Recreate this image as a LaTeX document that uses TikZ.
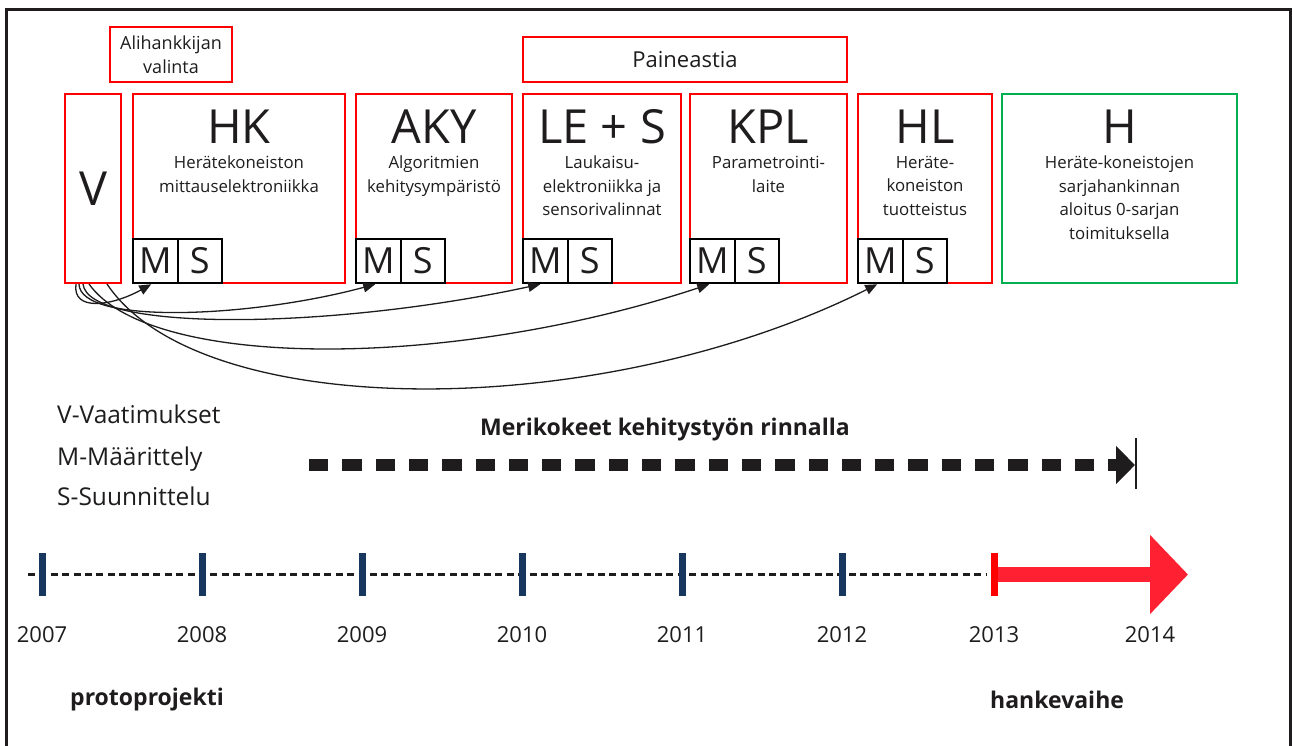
\documentclass[tikz,border=0pt]{standalone}
\usepackage{fontspec}
\setmainfont{Open Sans}
\usetikzlibrary{arrows.meta}
\definecolor{boxred}{RGB}{255,0,0}
\definecolor{boxgreen}{RGB}{0,176,80}
\definecolor{tickblue}{RGB}{23,55,94}
\definecolor{arrowred}{RGB}{255,33,49}
\definecolor{ink}{RGB}{30,28,29}
\begin{document}
\begin{tikzpicture}[x=1pt,y=-1pt,
  every node/.style={text=ink},
  redbox/.style={draw=boxred, line width=2pt, inner sep=0pt, minimum height=189pt},
  greenbox/.style={draw=boxgreen, line width=2pt, inner sep=0pt, minimum height=189pt},
  topbox/.style={draw=boxred, line width=1.6pt, inner sep=0pt, align=center},
  msbox/.style={draw=black, line width=2pt, inner sep=0pt, minimum width=44.5pt, minimum height=44.5pt, font=\fontsize{36}{36}\selectfont},
  bigtitle/.style={inner sep=0pt, anchor=base, font=\fontsize{47}{47}\selectfont},
  subtext/.style={inner sep=0pt, anchor=north, align=center, font=\fontsize{16.8}{23.5}\selectfont},
  legend/.style={inner sep=0pt, anchor=base west, font=\fontsize{24.5}{24.5}\selectfont},
  yearlbl/.style={inner sep=0pt, anchor=base, font=\fontsize{22}{22}\selectfont},
  boldlbl/.style={inner sep=0pt, font=\bfseries\fontsize{23}{23}\selectfont},
  conn/.style={draw=ink, line width=1.3pt, -{Triangle[length=12pt,width=10pt]}},
  tick/.style={fill=tickblue, inner sep=0pt, minimum width=7pt, minimum height=43pt},
]
\useasboundingbox (0,0) rectangle (1292,745);
% frame
\draw[line width=2.5pt, ink] (6.5,746) -- (6.5,9.5) -- (1290.5,9.5) -- (1290.5,746);

% top boxes
\node[topbox, minimum width=122pt, minimum height=55pt, font=\fontsize{18}{24}\selectfont] (ali) at (171,54.5) {Alihankkijan\\valinta};
\node[topbox, line width=2pt, minimum width=324pt, minimum height=45pt, font=\fontsize{22}{22}\selectfont] (paine) at (685,59.5) {Paineastia};

% V box
\node[redbox, minimum width=56pt, font=\fontsize{47}{47}\selectfont] (V) at (93,188.5) {V};

% main boxes
\node[redbox, minimum width=212pt] (HK) at (239,188.5) {};
\node[redbox, minimum width=156pt] (AKY) at (434,188.5) {};
\node[redbox, minimum width=158pt] (LES) at (602,188.5) {};
\node[redbox, minimum width=157pt] (KPL) at (768.5,188.5) {};
\node[redbox, minimum width=134pt] (HL) at (925,188.5) {};
\node[greenbox, minimum width=235pt] (H) at (1119.5,188.5) {};

% titles
\node[bigtitle] (HKt) at (239,143) {HK};
\node[bigtitle] (AKYt) at (434,143) {AKY};
\node[bigtitle] (LESt) at (602,143) {LE + S};
\node[bigtitle] (KPLt) at (768.5,143) {KPL};
\node[bigtitle] (HLt) at (925,143) {HL};
\node[bigtitle] (Ht) at (1119.5,143) {H};

% subtexts
\node[subtext] (HKs) at (239,156) {Herätekoneiston\\mittauselektroniikka};
\node[subtext] (AKYs) at (434,156) {Algoritmien\\kehitysympäristö};
\node[subtext] (LESs) at (602,156) {Laukaisu-\\elektroniikka ja\\sensorivalinnat};
\node[subtext] (KPLs) at (768.5,156) {Parametrointi-\\laite};
\node[subtext] (HLs) at (925,156) {Heräte-\\koneiston\\tuotteistus};
\node[subtext] (Hs) at (1119.5,156) {Heräte-koneistojen\\sarjahankinnan\\aloitus 0-sarjan\\toimituksella};

% M / S boxes
\node[msbox] (HKM) at (155.25,261) {M};
\node[msbox] (HKS) at (199.75,261) {S};
\node[msbox] (AKYM) at (378.25,261) {M};
\node[msbox] (AKYS) at (422.75,261) {S};
\node[msbox] (LESM) at (545.25,261) {M};
\node[msbox] (LESS) at (589.75,261) {S};
\node[msbox] (KPLM) at (712.25,261) {M};
\node[msbox] (KPLS) at (756.75,261) {S};
\node[msbox] (HLM) at (880.25,261) {M};
\node[msbox] (HLS) at (924.75,261) {S};

% connectors from V
\draw[conn] ([xshift=12pt]V.south west) .. controls (72,312) and (112,306) .. ([xshift=-4pt]HKM.south);
\draw[conn] ([xshift=15pt]V.south west) .. controls (80,325) and (250,318) .. ([xshift=-3pt]AKYM.south);
\draw[conn] ([xshift=19pt]V.south west) .. controls (88,332) and (330,330) .. ([xshift=-5pt]LESM.south);
\draw[conn] ([xshift=25pt]V.south west) .. controls (150,370) and (450,370) .. ([xshift=-3pt]KPLM.south);
\draw[conn] ([xshift=43pt]V.south west) .. controls (200,423) and (600,423) .. ([xshift=-3pt]HLM.south);

% legend
\node[legend] (lv) at (57,423) {V-Vaatimukset};
\node[legend] (lm) at (57,465) {M-Määrittely};
\node[legend] (ls) at (57,505) {S-Suunnittelu};

% sea trials
\node[boldlbl] (meri) at (665,430) {Merikokeet kehitystyön rinnalla};
\coordinate (mkstart) at (309,465);
\coordinate (mkend) at (1135,465);
\draw[ink, line width=12pt, dash pattern=on 19.3pt off 14pt, -{Triangle[length=19pt,width=37pt]}] (mkstart) -- (mkend);
\coordinate (mbtop) at (1135.5,438);
\coordinate (mbbot) at (1135.5,489);
\draw[ink, line width=2pt] (mbtop) -- (mbbot);

% timeline
\coordinate (tlstart) at (28,574.5);
\coordinate (tlend) at (986,574.5);
\draw[ink, line width=3.8pt, dash pattern=on 7pt off 4.4pt] (tlstart) -- (tlend);
\node[tick] (t7) at (42,574.5) {};
\node[tick] (t8) at (202,574.5) {};
\node[tick] (t9) at (362,574.5) {};
\node[tick] (t10) at (522,574.5) {};
\node[tick] (t11) at (682,574.5) {};
\node[tick] (t12) at (842,574.5) {};
\node[tick, fill=boxred] (t13) at (994.5,574.5) {};
\coordinate (redend) at (1188,574.5);
\draw[arrowred, line width=15pt, -{Triangle[length=38pt,width=77pt]}] (t13.east) -- (redend);

% years
\node[yearlbl] (y7) at (42,642) {2007};
\node[yearlbl] (y8) at (202,642) {2008};
\node[yearlbl] (y9) at (362,642) {2009};
\node[yearlbl] (y10) at (522,642) {2010};
\node[yearlbl] (y11) at (682,642) {2011};
\node[yearlbl] (y12) at (842,642) {2012};
\node[yearlbl] (y13) at (994,642) {2013};
\node[yearlbl] (y14) at (1150,642) {2014};

% phases
\node[boldlbl, anchor=west] (proto) at (70,700) {protoprojekti};
\node[boldlbl, anchor=west] (hanke) at (990,700) {hankevaihe};
\end{tikzpicture}
\end{document}
